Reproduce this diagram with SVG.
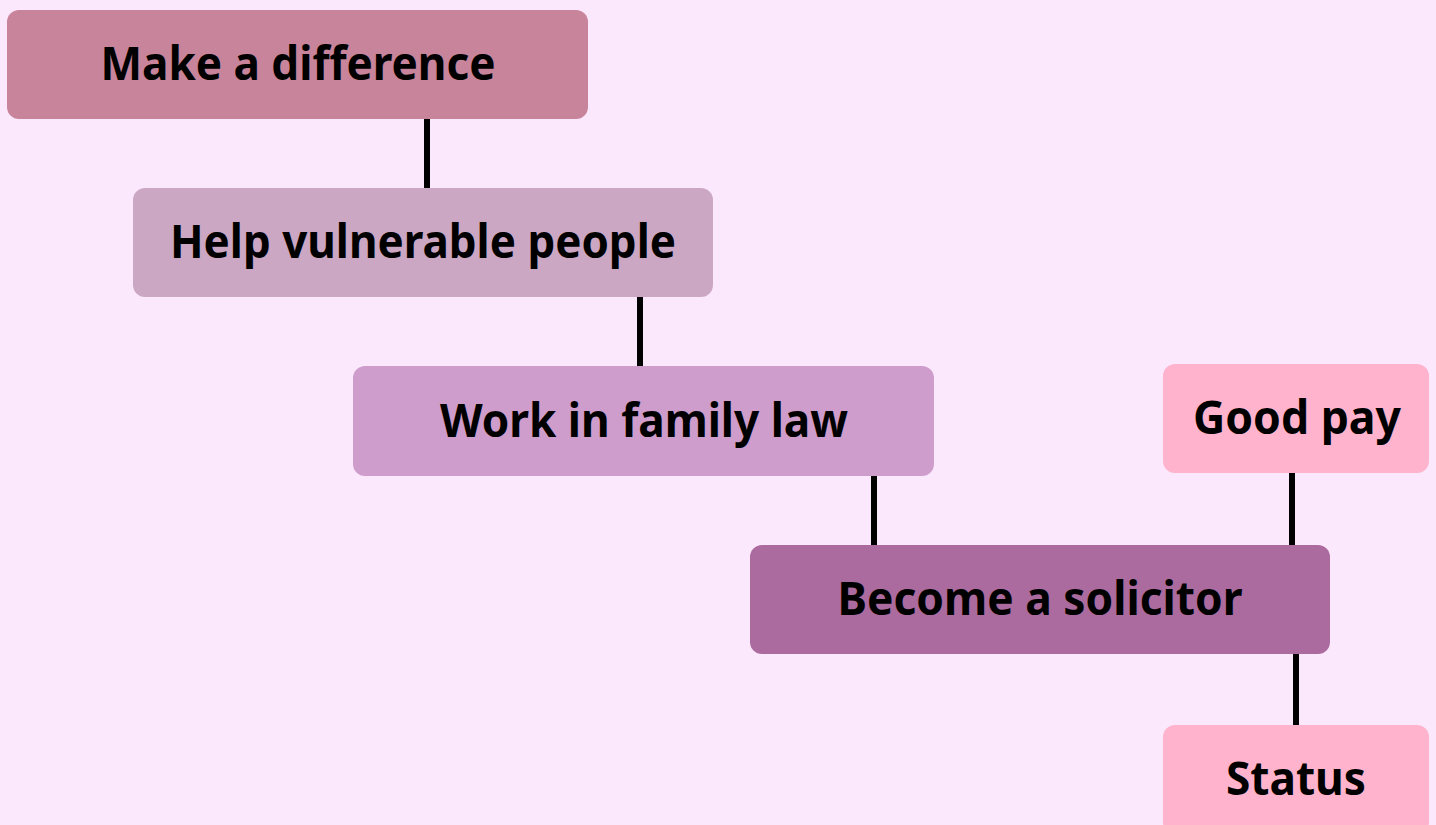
<svg xmlns="http://www.w3.org/2000/svg" width="1436" height="825" viewBox="0 0 1436 825">
<style>
.bg{fill:#FBE8FD}
.box{rx:12;ry:12}
.lbl{font-family:"Noto Sans","Open Sans","DejaVu Sans",sans-serif;font-weight:bold;font-size:46px;fill:#000;text-anchor:middle}
.conn{stroke:#000;stroke-width:6;fill:none}
</style>
<rect class="bg" x="0" y="0" width="1436" height="825"/>
<g id="connectors">
<line class="conn" x1="427" y1="119" x2="427" y2="188"/>
<line class="conn" x1="640" y1="297" x2="640" y2="366"/>
<line class="conn" x1="874" y1="476" x2="874" y2="545"/>
<line class="conn" x1="1292" y1="473" x2="1292" y2="545"/>
<line class="conn" x1="1296" y1="654" x2="1296" y2="725"/>
</g>
<g id="node-make-difference">
<rect class="box" x="7" y="10" width="581" height="109" fill="#C8849A"/>
<text class="lbl" x="298" y="80" textLength="395" lengthAdjust="spacingAndGlyphs">Make a difference</text>
</g>
<g id="node-help-vulnerable">
<rect class="box" x="133" y="188" width="580" height="109" fill="#CBA7C4"/>
<text class="lbl" x="423" y="258" textLength="506" lengthAdjust="spacingAndGlyphs">Help vulnerable people</text>
</g>
<g id="node-family-law">
<rect class="box" x="353" y="366" width="581" height="110" fill="#CF9DCB"/>
<text class="lbl" x="644" y="437" textLength="408" lengthAdjust="spacingAndGlyphs">Work in family law</text>
</g>
<g id="node-solicitor">
<rect class="box" x="750" y="545" width="580" height="109" fill="#AB6B9E"/>
<text class="lbl" x="1040" y="615" textLength="405" lengthAdjust="spacingAndGlyphs">Become a solicitor</text>
</g>
<g id="node-good-pay">
<rect class="box" x="1163" y="364" width="266" height="109" fill="#FFB3CC"/>
<text class="lbl" x="1297" y="434" textLength="208" lengthAdjust="spacingAndGlyphs">Good pay</text>
</g>
<g id="node-status">
<rect class="box" x="1163" y="725" width="266" height="109" fill="#FFB3CC"/>
<text class="lbl" x="1296" y="795" textLength="140" lengthAdjust="spacingAndGlyphs">Status</text>
</g>
</svg>
